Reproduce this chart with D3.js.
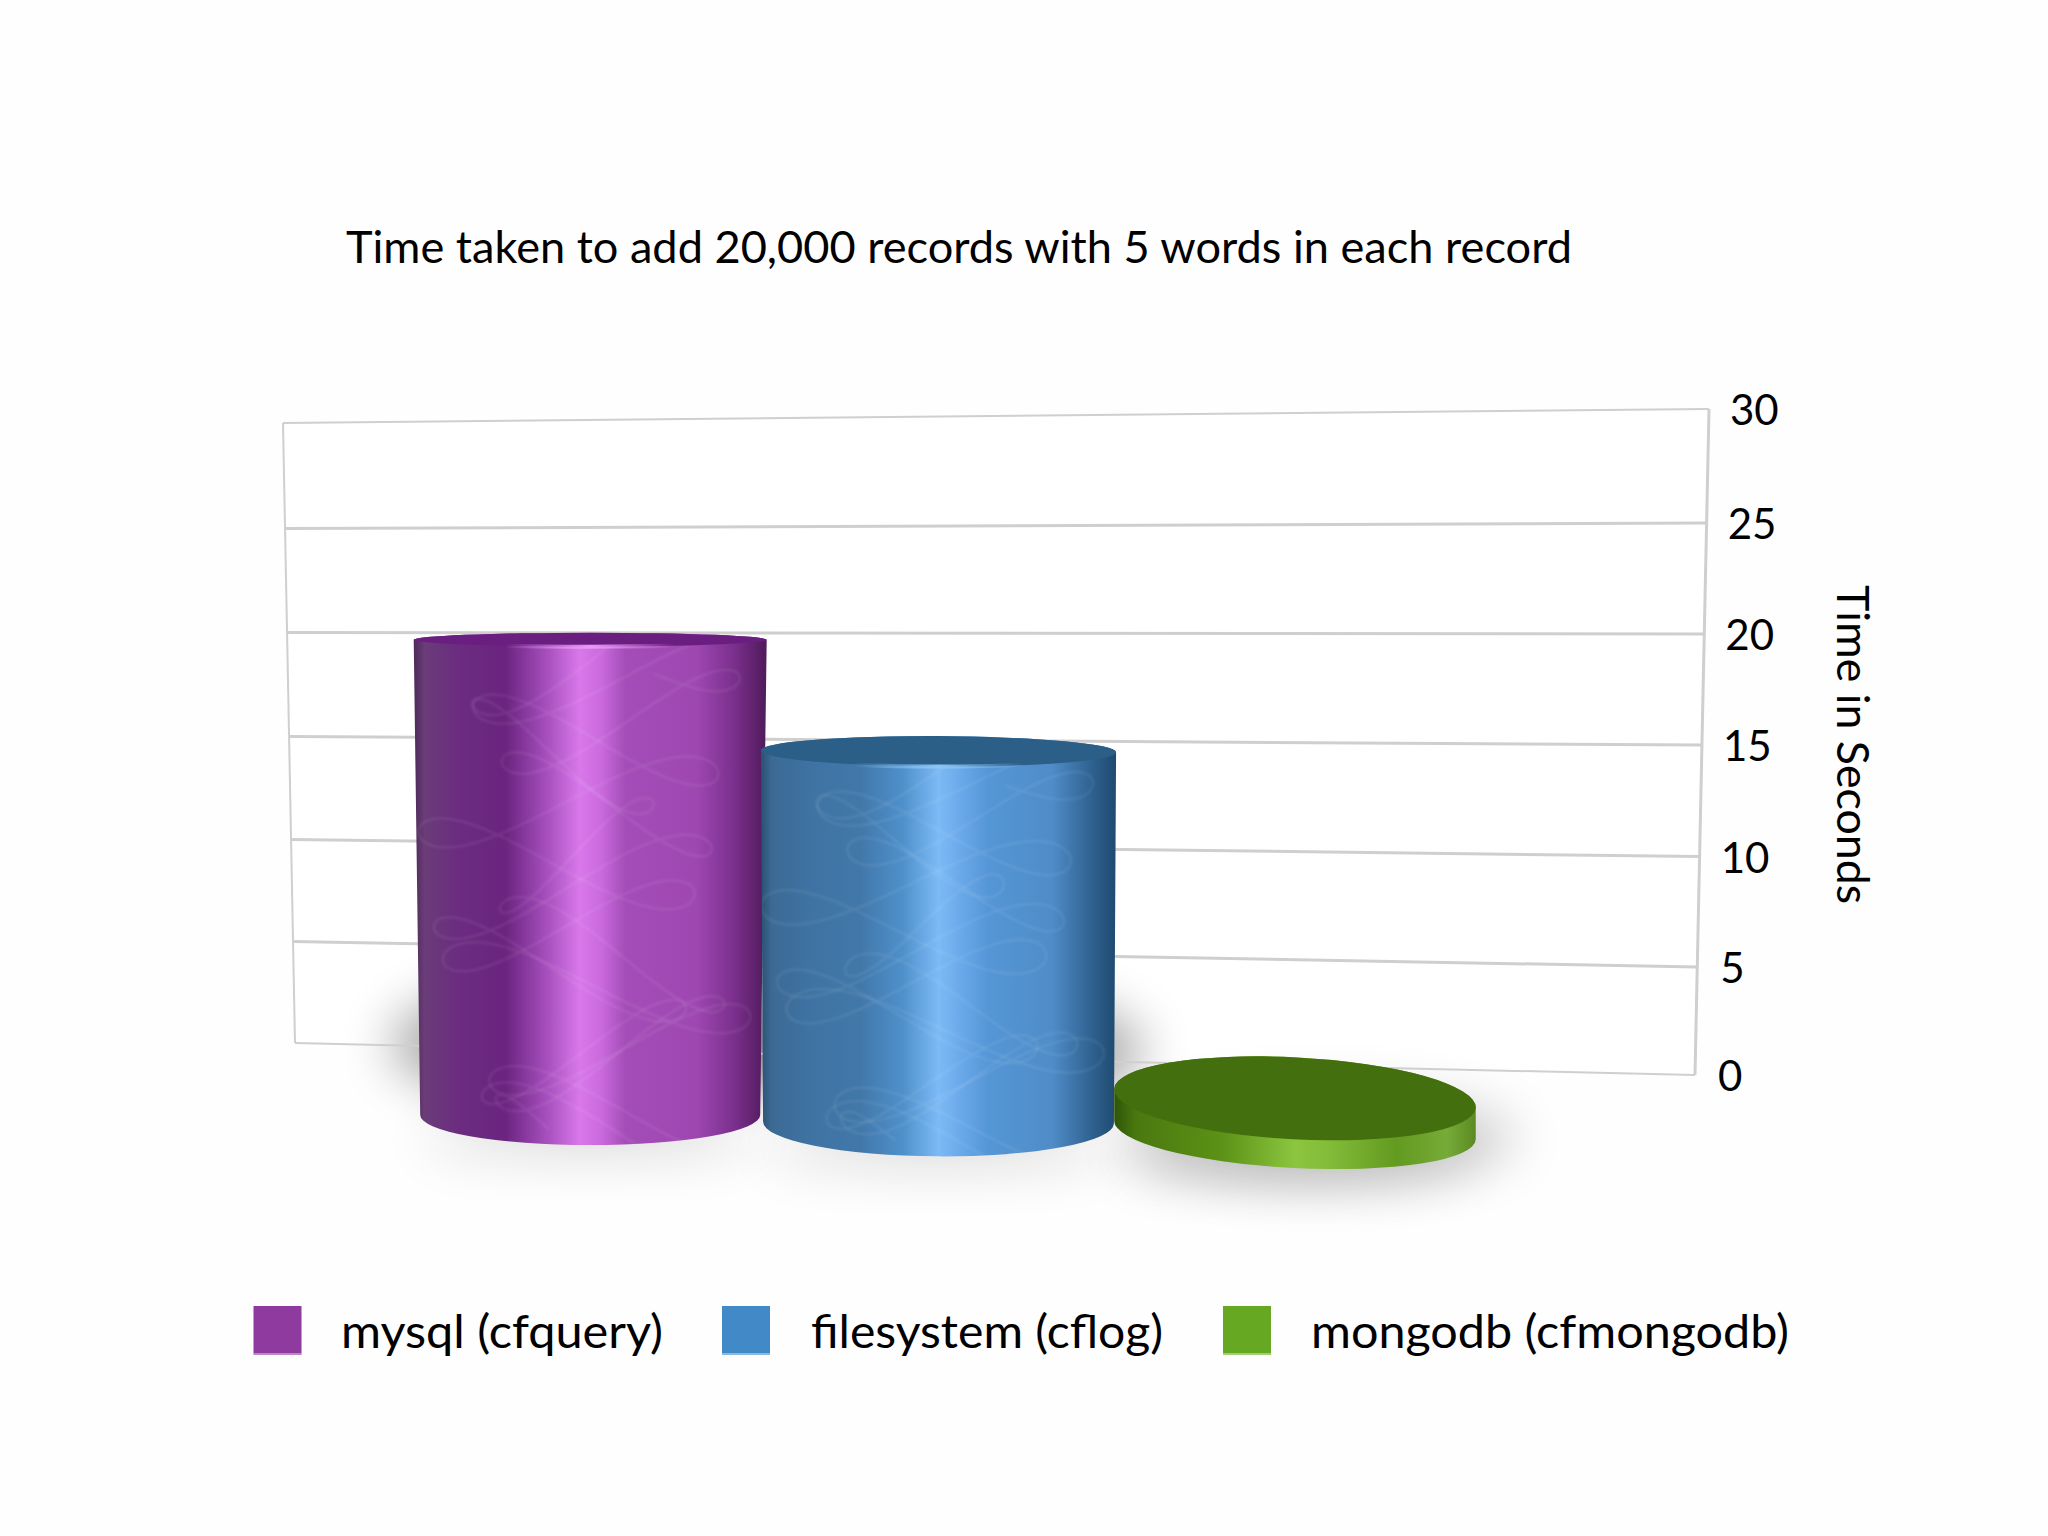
<!DOCTYPE html>
<html>
<head>
<meta charset="utf-8">
<script src="https://cdn.jsdelivr.net/npm/d3@7/dist/d3.min.js"></script>
<style>
html,body{margin:0;padding:0;background:#fefefe;}
svg{display:block;}
text{font-family:Lato,"Open Sans",sans-serif;fill:#000;}
</style>
</head>
<body>
<svg id="chart" width="2048" height="1536"></svg>
<script>
const chartTitle = "Time taken to add 20,000 records with 5 words in each record";
const axisTitle = "Time in Seconds";
const categories = ["mysql (cfquery)", "filesystem (cflog)", "mongodb (cfmongodb)"];
const seconds = [20, 15.2, 0.4];
const yTicks = [0, 5, 10, 15, 20, 25, 30];
const swatchColors = ["#8e3a9e", "#4189c7", "#67a822"];
const topColors = ["#6a1f80", "#2b5f88", "#436f0f"];
const rimColors = ["#ea98f8", "#8cc4f5", "#7fb536"];
const sideStops = [
  [[0,"#4d2a5a"],[3,"#6a3c78"],[12,"#6b2d80"],[26,"#6b2480"],[38,"#a850bf"],[47,"#d878ea"],[53,"#ca6ade"],[60,"#a44db8"],[80,"#9e47b1"],[91,"#7a2f8c"],[100,"#4f1a5a"]],
  [[0,"#2a5070"],[3,"#3c6a94"],[14,"#3f73a3"],[28,"#4178aa"],[40,"#4f90cb"],[50,"#7cbaf6"],[56,"#6ba9ea"],[64,"#5596d6"],[82,"#4f8cc8"],[93,"#2f6290"],[100,"#1f4a70"]],
  [[0,"#2f5508"],[6,"#4a780f"],[30,"#5c9216"],[50,"#8cc63f"],[60,"#82bb38"],[78,"#639a20"],[92,"#76ab38"],[100,"#5c8a22"]]
];

const svg = d3.select("#chart");
const defs = svg.append("defs");

/* perspective wall */
const xLeft = d3.scaleLinear().domain([0,30]).range([295,283]);
const xRight = d3.scaleLinear().domain([0,30]).range([1695,1709]);
const yLeft = d3.scaleLinear().domain(yTicks).range([1043,941.5,839.5,736.5,632.5,528.5,423]);
const yRight = d3.scaleLinear().domain(yTicks).range([1075,967,856.5,745,634,523,409]);
const wallY = (v, x) => {
  const t = (x - xLeft(v)) / (xRight(v) - xLeft(v));
  return yLeft(v) + t * (yRight(v) - yLeft(v));
};

/* column scales */
const centre = d3.scaleOrdinal().domain(categories).range([590.2,938.5,1295]);
const ryTop = d3.scaleLinear().domain([634,1058]).range([7,41]);
const hwTop = d3.scaleLinear().domain([634,1058]).range([176.5,181]);
const hwBottom = d3.scaleLinear().domain([590,1295]).range([170,181]);
const baseFront = d3.scaleLinear().domain([590,1295]).range([1145,1168]);
const ryBottom = d3.scaleLinear().domain([590,1295]).range([30,38]);
const tilt = d3.scaleLinear().domain([590,940,1295]).range([0,0.3,3]);

const columns = categories.map((name,i)=>{
  const cx = centre(name);
  const back = wallY(seconds[i], cx);
  const rt = ryTop(back), ht = hwTop(back), cyT = back + rt;
  const rb = ryBottom(cx), hb = hwBottom(cx), cyB = baseFront(cx) - rb;
  const deg = tilt(cx), a = deg*Math.PI/180;
  return {name,i,cx,back,rt,ht,cyT,rb,hb,cyB,deg,a};
});

/* gradients and filters */
columns.forEach(c=>{
  const g = defs.append("linearGradient").attr("id","side"+c.i).attr("x1","0").attr("x2","1").attr("y1","0").attr("y2","0");
  sideStops[c.i].forEach(s=>g.append("stop").attr("offset",s[0]+"%").attr("stop-color",s[1]));
  const r = defs.append("linearGradient").attr("id","rim"+c.i).attr("x1","0").attr("x2","1").attr("y1","0").attr("y2","0");
  [[20,0],[50,1],[80,0]].forEach(s=>r.append("stop").attr("offset",s[0]+"%").attr("stop-color",rimColors[c.i]).attr("stop-opacity",s[1]));
});
const blur = defs.append("filter").attr("id","blur").attr("x","-60%").attr("y","-120%").attr("width","220%").attr("height","340%");
blur.append("feGaussianBlur").attr("stdDeviation",26);
const soft = defs.append("filter").attr("id","soft").attr("x","-5%").attr("y","-5%").attr("width","110%").attr("height","110%");
soft.append("feGaussianBlur").attr("stdDeviation",0.8);

/* paths */
const pt = (cx,cy,h,a,s)=>[cx+s*h*Math.cos(a), cy+s*h*Math.sin(a)];
const sidePath = c=>{
  const tl=pt(c.cx,c.cyT,c.ht,c.a,-1), tr=pt(c.cx,c.cyT,c.ht,c.a,1);
  const bl=pt(c.cx,c.cyB,c.hb,c.a,-1), br=pt(c.cx,c.cyB,c.hb,c.a,1);
  return `M${tl}L${bl}A${c.hb} ${c.rb} ${c.deg} 0 0 ${br}L${tr}A${c.ht} ${c.rt} ${c.deg} 0 0 ${tl}Z`;
};

/* wall background */
const wallG = svg.append("g");
wallG.append("path")
  .attr("d",d3.line()([[xLeft(30),yLeft(30)],[xRight(30),yRight(30)],[xRight(0),yRight(0)],[xLeft(0),yLeft(0)]])+"Z")
  .attr("fill","#ffffff");

/* shadows: one behind each column's foot, one faint under it */
const shadowG = svg.append("g");
columns.forEach(c=>{
  const flat = c.i===2;
  shadowG.append("ellipse").attr("cx",c.cx+(flat?25:0)).attr("cy",flat?c.cyB+8:c.cyB-72)
    .attr("rx",c.hb+(flat?15:28)).attr("ry",flat?44:62)
    .attr("fill","#000").attr("opacity",flat?0.2:0.36).attr("filter","url(#blur)");
  shadowG.append("ellipse").attr("cx",c.cx).attr("cy",c.cyB+c.rb-6)
    .attr("rx",c.hb).attr("ry",18)
    .attr("fill","#000").attr("opacity",0.14).attr("filter","url(#blur)");
});

/* grid lines and edges */
const gridG = svg.append("g").attr("fill","none").attr("stroke","#cfcfcf");
gridG.selectAll("line.h").data(yTicks).join("line").attr("class","h")
  .attr("x1",d=>xLeft(d)).attr("y1",d=>yLeft(d)).attr("x2",d=>xRight(d)).attr("y2",d=>yRight(d))
  .attr("stroke-width",d=>(d===0||d===30)?2:3);
gridG.append("line").attr("x1",xLeft(0)).attr("y1",yLeft(0)).attr("x2",xLeft(30)).attr("y2",yLeft(30)).attr("stroke-width",2);
gridG.append("line").attr("x1",xRight(0)).attr("y1",yRight(0)).attr("x2",xRight(30)).attr("y2",yRight(30)).attr("stroke-width",3);

/* cylinders */
const colG = svg.append("g");
const curve = d3.line().curve(d3.curveBasis);
const squiggle = (c,k,ph,sp,y0,y1)=>d3.range(0,1.001,1/(k*12)).map(t=>[
  c.cx + c.hb*sp*Math.sin(t*k*2*Math.PI+ph) + c.hb*0.22*Math.sin(t*7+ph),
  y0 + t*(y1-y0) + 34*Math.sin(t*k*4*Math.PI+ph*2)
]);
columns.forEach(c=>{
  const g = colG.append("g");
  defs.append("clipPath").attr("id","clip"+c.i).append("path").attr("d",sidePath(c));
  g.append("path").attr("d",sidePath(c)).attr("fill",`url(#side${c.i})`);
  const tex = g.append("g").attr("clip-path",`url(#clip${c.i})`).attr("fill","none").attr("stroke","#fff").attr("stroke-width",2.5).attr("stroke-opacity",0.07).attr("filter","url(#soft)");
  const y0 = c.cyT+10, y1 = c.cyB+c.rb;
  if (y1-y0>150) {
    [[3,0.4,0.75],[4,1.7,0.85],[2.5,2.9,0.6]].forEach(p=>{
      tex.append("path").attr("d",curve(squiggle(c,p[0],p[1],p[2],y0,y1)));
    });
  }
  g.append("ellipse").attr("cx",c.cx).attr("cy",c.cyT)
    .attr("rx",c.ht).attr("ry",c.rt).attr("transform",`rotate(${c.deg} ${c.cx} ${c.cyT})`)
    .attr("fill",topColors[c.i]);
  if (c.i<2) {
    const s = 0.8, dy = c.rt*Math.sqrt(1-s*s);
    g.append("path")
      .attr("d",`M${c.cx-c.ht*s} ${c.cyT+dy}A${c.ht} ${c.rt} 0 0 0 ${c.cx+c.ht*s} ${c.cyT+dy}`)
      .attr("fill","none").attr("stroke",`url(#rim${c.i})`).attr("stroke-width",4);
  }
});

/* y tick labels, following the receding right edge */
svg.append("g").selectAll("text").data(yTicks).join("text")
  .attr("x",d=>xRight(d)+(d>=10?21:23))
  .attr("y",d=>yRight(d)+1)
  .attr("dy","0.36em")
  .attr("font-size",42)
  .text(d=>d);

/* titles */
svg.append("text").attr("x",346).attr("y",263).attr("font-size",44)
  .attr("textLength",1226).attr("lengthAdjust","spacingAndGlyphs").text(chartTitle);
svg.append("text").attr("transform","translate(1837,585) rotate(90)").attr("font-size",44)
  .attr("textLength",319).attr("lengthAdjust","spacingAndGlyphs").text(axisTitle);

/* legend */
const legendLabelX = [341,811,1311];
const legendLabelW = [322,352,478];
const swatchXs = [253.5,722,1223];
const legend = svg.append("g").selectAll("g").data(categories).join("g");
legend.append("rect").attr("x",(d,i)=>swatchXs[i]).attr("y",1306).attr("width",48).attr("height",49)
  .attr("fill",(d,i)=>swatchColors[i]);
legend.append("rect").attr("x",(d,i)=>swatchXs[i]).attr("y",1353).attr("width",48).attr("height",2)
  .attr("fill","#fff").attr("fill-opacity",0.4);
legend.append("text").attr("x",(d,i)=>legendLabelX[i]).attr("y",1347.5).attr("font-size",46)
  .attr("textLength",(d,i)=>legendLabelW[i]).attr("lengthAdjust","spacingAndGlyphs").text(d=>d);
</script>
</body>
</html>
